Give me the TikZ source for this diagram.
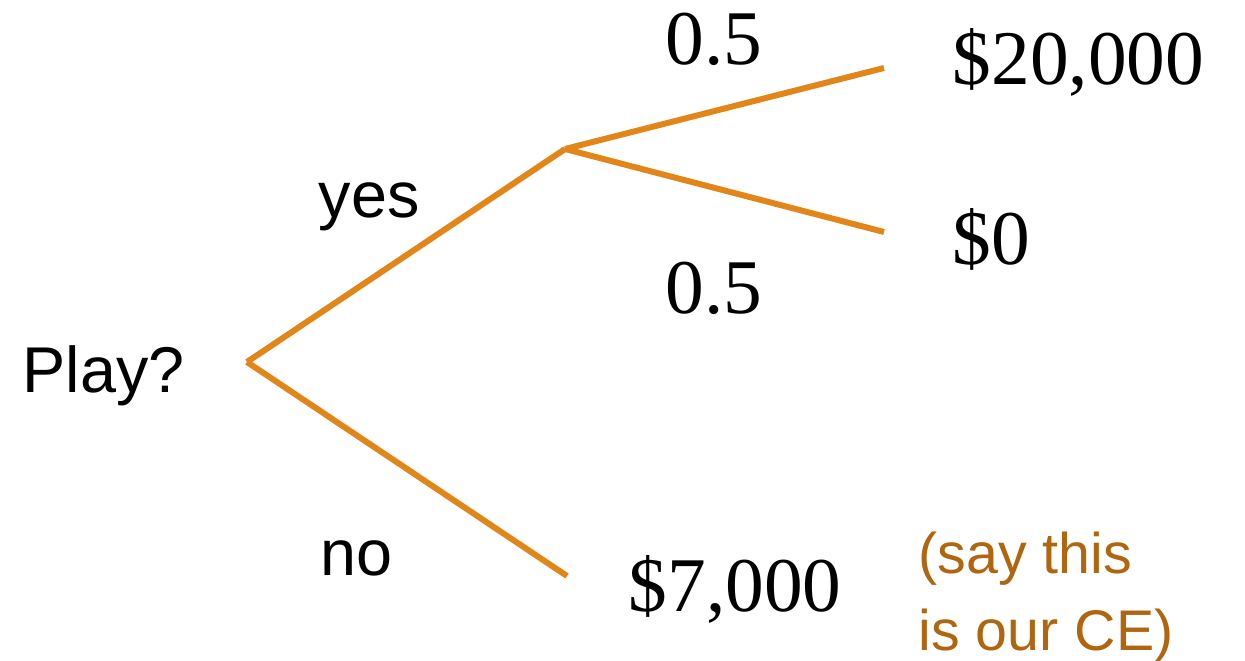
\documentclass[tikz,border=0pt]{standalone}
\usepackage{fontspec}
\setmainfont{Liberation Serif}
\newfontfamily\labsans{Liberation Sans}
\definecolor{branch}{HTML}{E3861A}
\definecolor{cetext}{HTML}{B0650F}
\begin{document}
\begin{tikzpicture}[x=0.01cm,y=-0.01cm,
  branchline/.style={draw=branch,line width=1.7pt},
  numlab/.style={inner sep=0,anchor=base west,font=\fontsize{22}{26}\selectfont},
  wordlab/.style={inner sep=0,anchor=base west,font=\labsans\fontsize{18.4}{22}\selectfont},
  celab/.style={inner sep=0,anchor=base west,text=cetext,font=\labsans\fontsize{16.3}{21.8}\selectfont,align=left}]
\useasboundingbox (0,0) rectangle (1245,661);
\coordinate (root) at (247,362);
\coordinate (chance) at (565,149);
\coordinate (win) at (884,68);
\coordinate (lose) at (884,232);
\coordinate (noend) at (567,576);
\draw[branchline] (root) -- (chance);
\draw[branchline] (chance) -- (win);
\draw[branchline] (chance) -- (lose);
\draw[branchline] (root) -- (noend);
\node[wordlab] (play) at (22,393) {Play?};
\node[wordlab] (yes) at (318,218) {yes};
\node[wordlab] (no) at (320,576) {no};
\node[numlab] (ptop) at (665,65) {0.5};
\node[numlab] (pbot) at (665,314) {0.5};
\node[numlab] (v20) at (952,85) {\$20,000};
\node[numlab] (v0) at (952,265) {\$0};
\node[numlab] (v7) at (628,612) {\$7,000};
\node[celab] (ce) at (918,650) {(say this\\is our CE)};
\end{tikzpicture}
\end{document}
